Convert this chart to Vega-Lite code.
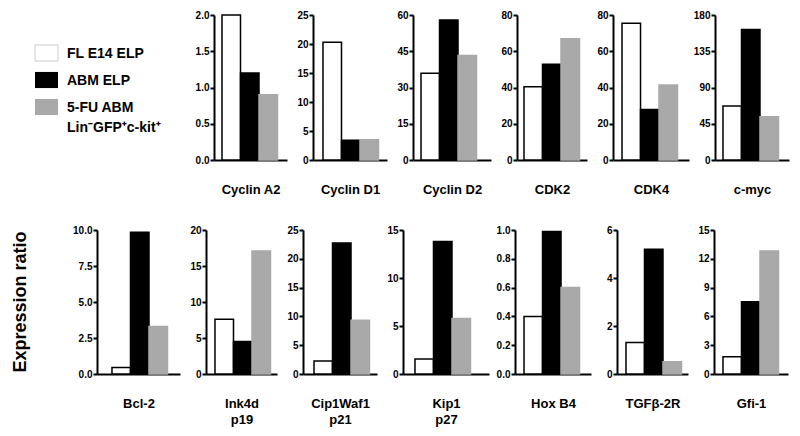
{
  "$schema": "https://vega.github.io/schema/vega-lite/v6.json",
  "background": "white",
  "padding": {"left": 0, "top": 10, "right": 5, "bottom": 5},
  "bounds": "flush",
  "spacing": 215,
  "datasets": {
    "expr": [
      {"gene": "Cyclin A2", "group": "FL E14 ELP", "value": 2.0},
      {"gene": "Cyclin A2", "group": "ABM ELP", "value": 1.2},
      {"gene": "Cyclin A2", "group": "5-FU ABM Lin⁻GFP⁺c-kit⁺", "value": 0.9},
      {"gene": "Cyclin D1", "group": "FL E14 ELP", "value": 20.3},
      {"gene": "Cyclin D1", "group": "ABM ELP", "value": 3.4},
      {"gene": "Cyclin D1", "group": "5-FU ABM Lin⁻GFP⁺c-kit⁺", "value": 3.5},
      {"gene": "Cyclin D2", "group": "FL E14 ELP", "value": 35.9},
      {"gene": "Cyclin D2", "group": "ABM ELP", "value": 57.9},
      {"gene": "Cyclin D2", "group": "5-FU ABM Lin⁻GFP⁺c-kit⁺", "value": 43.2},
      {"gene": "CDK2", "group": "FL E14 ELP", "value": 40.4},
      {"gene": "CDK2", "group": "ABM ELP", "value": 52.8},
      {"gene": "CDK2", "group": "5-FU ABM Lin⁻GFP⁺c-kit⁺", "value": 66.9},
      {"gene": "CDK4", "group": "FL E14 ELP", "value": 75.4},
      {"gene": "CDK4", "group": "ABM ELP", "value": 27.9},
      {"gene": "CDK4", "group": "5-FU ABM Lin⁻GFP⁺c-kit⁺", "value": 41.4},
      {"gene": "c-myc", "group": "FL E14 ELP", "value": 67},
      {"gene": "c-myc", "group": "ABM ELP", "value": 162},
      {"gene": "c-myc", "group": "5-FU ABM Lin⁻GFP⁺c-kit⁺", "value": 53.8},
      {"gene": "Bcl-2", "group": "FL E14 ELP", "value": 0.46},
      {"gene": "Bcl-2", "group": "ABM ELP", "value": 9.84},
      {"gene": "Bcl-2", "group": "5-FU ABM Lin⁻GFP⁺c-kit⁺", "value": 3.29},
      {"gene": "Ink4d p19", "group": "FL E14 ELP", "value": 7.6},
      {"gene": "Ink4d p19", "group": "ABM ELP", "value": 4.5},
      {"gene": "Ink4d p19", "group": "5-FU ABM Lin⁻GFP⁺c-kit⁺", "value": 17.1},
      {"gene": "Cip1Waf1 p21", "group": "FL E14 ELP", "value": 2.25},
      {"gene": "Cip1Waf1 p21", "group": "ABM ELP", "value": 22.75},
      {"gene": "Cip1Waf1 p21", "group": "5-FU ABM Lin⁻GFP⁺c-kit⁺", "value": 9.33},
      {"gene": "Kip1 p27", "group": "FL E14 ELP", "value": 1.56},
      {"gene": "Kip1 p27", "group": "ABM ELP", "value": 13.8},
      {"gene": "Kip1 p27", "group": "5-FU ABM Lin⁻GFP⁺c-kit⁺", "value": 5.78},
      {"gene": "Hox B4", "group": "FL E14 ELP", "value": 0.40},
      {"gene": "Hox B4", "group": "ABM ELP", "value": 0.99},
      {"gene": "Hox B4", "group": "5-FU ABM Lin⁻GFP⁺c-kit⁺", "value": 0.60},
      {"gene": "TGFβ-2R", "group": "FL E14 ELP", "value": 1.31},
      {"gene": "TGFβ-2R", "group": "ABM ELP", "value": 5.2},
      {"gene": "TGFβ-2R", "group": "5-FU ABM Lin⁻GFP⁺c-kit⁺", "value": 0.51},
      {"gene": "Gfi-1", "group": "FL E14 ELP", "value": 1.8},
      {"gene": "Gfi-1", "group": "ABM ELP", "value": 7.53},
      {"gene": "Gfi-1", "group": "5-FU ABM Lin⁻GFP⁺c-kit⁺", "value": 12.8}
    ],
    "legend": [
      {"group": "FL E14 ELP", "label": "FL E14 ELP"},
      {"group": "ABM ELP", "label": "ABM ELP"},
      {"group": "5-FU ABM Lin⁻GFP⁺c-kit⁺", "label": "5-FU ABM\nLin⁻GFP⁺c-kit⁺"}
    ],
    "ytitle": [{"label": "Expression ratio"}]
  },
  "vconcat": [
    {
      "bounds": "flush",
      "spacing": 121,
      "hconcat": [
        {
          "width": 93, "height": 130,
          "data": {"name": "legend"},
          "layer": [
            {
              "mark": {"type": "point", "filled": true, "shape": "M-1,-0.7H1V0.7H-1Z", "size": 529, "strokeWidth": 1, "opacity": 1},
              "encoding": {
                "y": {"field": "group", "type": "nominal", "sort": ["FL E14 ELP", "ABM ELP", "5-FU ABM Lin⁻GFP⁺c-kit⁺"], "scale": {"type": "band", "paddingInner": 0, "paddingOuter": 0.907}, "axis": null},
                "fill": {"field": "group", "type": "nominal", "scale": {"domain": ["FL E14 ELP", "ABM ELP", "5-FU ABM Lin⁻GFP⁺c-kit⁺"], "range": ["white", "black", "#a9a9a9"]}, "legend": null},
                "stroke": {"condition": {"test": "datum.group == 'FL E14 ELP'", "value": "#cccccc"}, "value": "transparent"}
              }
            },
            {
              "mark": {"type": "text", "align": "left", "baseline": "top", "dx": 20.5, "dy": -6, "fontSize": 14, "fontWeight": "bold", "font": "Liberation Sans", "lineBreak": "\n", "lineHeight": 20, "color": "black"},
              "encoding": {
                "y": {"field": "group", "type": "nominal", "sort": ["FL E14 ELP", "ABM ELP", "5-FU ABM Lin⁻GFP⁺c-kit⁺"], "scale": {"type": "band", "paddingInner": 0, "paddingOuter": 0.907}, "axis": null},
                "text": {"field": "label"}
              }
            }
          ]
        },
        {
          "bounds": "flush",
          "spacing": 26,
          "hconcat": [
            {"width": 73, "height": 145, "data": {"name": "expr"}, "transform": [{"filter": "datum.gene == 'Cyclin A2'"}], "mark": {"type": "bar", "strokeWidth": 1.5},
             "encoding": {"x": {"field": "group", "type": "nominal", "sort": ["FL E14 ELP", "ABM ELP", "5-FU ABM Lin⁻GFP⁺c-kit⁺"], "scale": {"paddingInner": 0, "paddingOuter": 0.473, "align": 0.457}, "axis": {"title": "Cyclin A2"}},
              "y": {"field": "value", "type": "quantitative", "scale": {"domain": [0, 2], "nice": false}, "axis": {"values": [0, 0.5, 1, 1.5, 2], "format": ".1f", "title": null}},
              "fill": {"field": "group", "type": "nominal", "scale": {"domain": ["FL E14 ELP", "ABM ELP", "5-FU ABM Lin⁻GFP⁺c-kit⁺"], "range": ["white", "black", "#a9a9a9"]}, "legend": null},
              "stroke": {"field": "group", "type": "nominal", "scale": {"domain": ["FL E14 ELP", "ABM ELP", "5-FU ABM Lin⁻GFP⁺c-kit⁺"], "range": ["black", "black", "#a9a9a9"]}, "legend": null}}},
            {"width": 74, "height": 145, "data": {"name": "expr"}, "transform": [{"filter": "datum.gene == 'Cyclin D1'"}], "mark": {"type": "bar", "strokeWidth": 1.5},
             "encoding": {"x": {"field": "group", "type": "nominal", "sort": ["FL E14 ELP", "ABM ELP", "5-FU ABM Lin⁻GFP⁺c-kit⁺"], "scale": {"paddingInner": 0, "paddingOuter": 0.5, "align": 0.54}, "axis": {"title": "Cyclin D1"}},
              "y": {"field": "value", "type": "quantitative", "scale": {"domain": [0, 25], "nice": false}, "axis": {"values": [0, 5, 10, 15, 20, 25], "title": null}},
              "fill": {"field": "group", "type": "nominal", "scale": {"domain": ["FL E14 ELP", "ABM ELP", "5-FU ABM Lin⁻GFP⁺c-kit⁺"], "range": ["white", "black", "#a9a9a9"]}, "legend": null},
              "stroke": {"field": "group", "type": "nominal", "scale": {"domain": ["FL E14 ELP", "ABM ELP", "5-FU ABM Lin⁻GFP⁺c-kit⁺"], "range": ["black", "black", "#a9a9a9"]}, "legend": null}}},
            {"width": 78, "height": 145, "data": {"name": "expr"}, "transform": [{"filter": "datum.gene == 'Cyclin D2'"}], "mark": {"type": "bar", "strokeWidth": 1.5},
             "encoding": {"x": {"field": "group", "type": "nominal", "sort": ["FL E14 ELP", "ABM ELP", "5-FU ABM Lin⁻GFP⁺c-kit⁺"], "scale": {"paddingInner": 0, "paddingOuter": 0.608, "align": 0.356}, "axis": {"title": "Cyclin D2"}},
              "y": {"field": "value", "type": "quantitative", "scale": {"domain": [0, 60], "nice": false}, "axis": {"values": [0, 15, 30, 45, 60], "title": null}},
              "fill": {"field": "group", "type": "nominal", "scale": {"domain": ["FL E14 ELP", "ABM ELP", "5-FU ABM Lin⁻GFP⁺c-kit⁺"], "range": ["white", "black", "#a9a9a9"]}, "legend": null},
              "stroke": {"field": "group", "type": "nominal", "scale": {"domain": ["FL E14 ELP", "ABM ELP", "5-FU ABM Lin⁻GFP⁺c-kit⁺"], "range": ["black", "black", "#a9a9a9"]}, "legend": null}}},
            {"width": 70, "height": 145, "data": {"name": "expr"}, "transform": [{"filter": "datum.gene == 'CDK2'"}], "mark": {"type": "bar", "strokeWidth": 1.5},
             "encoding": {"x": {"field": "group", "type": "nominal", "sort": ["FL E14 ELP", "ABM ELP", "5-FU ABM Lin⁻GFP⁺c-kit⁺"], "scale": {"paddingInner": 0, "paddingOuter": 0.392, "align": 0.483}, "axis": {"title": "CDK2"}},
              "y": {"field": "value", "type": "quantitative", "scale": {"domain": [0, 80], "nice": false}, "axis": {"values": [0, 20, 40, 60, 80], "title": null}},
              "fill": {"field": "group", "type": "nominal", "scale": {"domain": ["FL E14 ELP", "ABM ELP", "5-FU ABM Lin⁻GFP⁺c-kit⁺"], "range": ["white", "black", "#a9a9a9"]}, "legend": null},
              "stroke": {"field": "group", "type": "nominal", "scale": {"domain": ["FL E14 ELP", "ABM ELP", "5-FU ABM Lin⁻GFP⁺c-kit⁺"], "range": ["black", "black", "#a9a9a9"]}, "legend": null}}},
            {"width": 76, "height": 145, "data": {"name": "expr"}, "transform": [{"filter": "datum.gene == 'CDK4'"}], "mark": {"type": "bar", "strokeWidth": 1.5},
             "encoding": {"x": {"field": "group", "type": "nominal", "sort": ["FL E14 ELP", "ABM ELP", "5-FU ABM Lin⁻GFP⁺c-kit⁺"], "scale": {"paddingInner": 0, "paddingOuter": 0.554, "align": 0.44}, "axis": {"title": "CDK4"}},
              "y": {"field": "value", "type": "quantitative", "scale": {"domain": [0, 80], "nice": false}, "axis": {"values": [0, 20, 40, 60, 80], "title": null}},
              "fill": {"field": "group", "type": "nominal", "scale": {"domain": ["FL E14 ELP", "ABM ELP", "5-FU ABM Lin⁻GFP⁺c-kit⁺"], "range": ["white", "black", "#a9a9a9"]}, "legend": null},
              "stroke": {"field": "group", "type": "nominal", "scale": {"domain": ["FL E14 ELP", "ABM ELP", "5-FU ABM Lin⁻GFP⁺c-kit⁺"], "range": ["black", "black", "#a9a9a9"]}, "legend": null}}},
            {"width": 74, "height": 145, "data": {"name": "expr"}, "transform": [{"filter": "datum.gene == 'c-myc'"}], "mark": {"type": "bar", "strokeWidth": 1.5},
             "encoding": {"x": {"field": "group", "type": "nominal", "sort": ["FL E14 ELP", "ABM ELP", "5-FU ABM Lin⁻GFP⁺c-kit⁺"], "scale": {"paddingInner": 0, "paddingOuter": 0.5, "align": 0.432}, "axis": {"title": "c-myc"}},
              "y": {"field": "value", "type": "quantitative", "scale": {"domain": [0, 180], "nice": false}, "axis": {"values": [0, 45, 90, 135, 180], "title": null}},
              "fill": {"field": "group", "type": "nominal", "scale": {"domain": ["FL E14 ELP", "ABM ELP", "5-FU ABM Lin⁻GFP⁺c-kit⁺"], "range": ["white", "black", "#a9a9a9"]}, "legend": null},
              "stroke": {"field": "group", "type": "nominal", "scale": {"domain": ["FL E14 ELP", "ABM ELP", "5-FU ABM Lin⁻GFP⁺c-kit⁺"], "range": ["black", "black", "#a9a9a9"]}, "legend": null}}}
          ]
        }
      ]
    },
    {
      "bounds": "flush",
      "spacing": 55,
      "hconcat": [
        {
          "width": 42, "height": 144,
          "data": {"name": "ytitle"},
          "mark": {"type": "text", "angle": 270, "fontSize": 18, "fontWeight": "bold", "font": "Liberation Sans", "align": "center", "baseline": "middle", "color": "black"},
          "encoding": {"text": {"field": "label"}}
        },
        {
          "bounds": "flush",
          "spacing": 26,
          "hconcat": [
            {"width": 83, "height": 144, "data": {"name": "expr"}, "transform": [{"filter": "datum.gene == 'Bcl-2'"}], "mark": {"type": "bar", "strokeWidth": 1.5},
             "encoding": {"x": {"field": "group", "type": "nominal", "sort": ["FL E14 ELP", "ABM ELP", "5-FU ABM Lin⁻GFP⁺c-kit⁺"], "scale": {"paddingInner": 0, "paddingOuter": 0.743, "align": 0.545}, "axis": {"title": "Bcl-2"}},
              "y": {"field": "value", "type": "quantitative", "scale": {"domain": [0, 10], "nice": false}, "axis": {"values": [0, 2.5, 5, 7.5, 10], "format": ".1f", "title": null}},
              "fill": {"field": "group", "type": "nominal", "scale": {"domain": ["FL E14 ELP", "ABM ELP", "5-FU ABM Lin⁻GFP⁺c-kit⁺"], "range": ["white", "black", "#a9a9a9"]}, "legend": null},
              "stroke": {"field": "group", "type": "nominal", "scale": {"domain": ["FL E14 ELP", "ABM ELP", "5-FU ABM Lin⁻GFP⁺c-kit⁺"], "range": ["black", "black", "#a9a9a9"]}, "legend": null}}},
            {"width": 71, "height": 144, "data": {"name": "expr"}, "transform": [{"filter": "datum.gene == 'Ink4d p19'"}], "mark": {"type": "bar", "strokeWidth": 1.5},
             "encoding": {"x": {"field": "group", "type": "nominal", "sort": ["FL E14 ELP", "ABM ELP", "5-FU ABM Lin⁻GFP⁺c-kit⁺"], "scale": {"paddingInner": 0, "paddingOuter": 0.419, "align": 0.58}, "axis": {"title": ["Ink4d", "p19"]}},
              "y": {"field": "value", "type": "quantitative", "scale": {"domain": [0, 20], "nice": false}, "axis": {"values": [0, 5, 10, 15, 20], "title": null}},
              "fill": {"field": "group", "type": "nominal", "scale": {"domain": ["FL E14 ELP", "ABM ELP", "5-FU ABM Lin⁻GFP⁺c-kit⁺"], "range": ["white", "black", "#a9a9a9"]}, "legend": null},
              "stroke": {"field": "group", "type": "nominal", "scale": {"domain": ["FL E14 ELP", "ABM ELP", "5-FU ABM Lin⁻GFP⁺c-kit⁺"], "range": ["black", "black", "#a9a9a9"]}, "legend": null}}},
            {"width": 74, "height": 144, "data": {"name": "expr"}, "transform": [{"filter": "datum.gene == 'Cip1Waf1 p21'"}], "mark": {"type": "bar", "strokeWidth": 1.5},
             "encoding": {"x": {"field": "group", "type": "nominal", "sort": ["FL E14 ELP", "ABM ELP", "5-FU ABM Lin⁻GFP⁺c-kit⁺"], "scale": {"paddingInner": 0, "paddingOuter": 0.5, "align": 0.595}, "axis": {"title": ["Cip1Waf1", "p21"]}},
              "y": {"field": "value", "type": "quantitative", "scale": {"domain": [0, 25], "nice": false}, "axis": {"values": [0, 5, 10, 15, 20, 25], "title": null}},
              "fill": {"field": "group", "type": "nominal", "scale": {"domain": ["FL E14 ELP", "ABM ELP", "5-FU ABM Lin⁻GFP⁺c-kit⁺"], "range": ["white", "black", "#a9a9a9"]}, "legend": null},
              "stroke": {"field": "group", "type": "nominal", "scale": {"domain": ["FL E14 ELP", "ABM ELP", "5-FU ABM Lin⁻GFP⁺c-kit⁺"], "range": ["black", "black", "#a9a9a9"]}, "legend": null}}},
            {"width": 86, "height": 144, "data": {"name": "expr"}, "transform": [{"filter": "datum.gene == 'Kip1 p27'"}], "mark": {"type": "bar", "strokeWidth": 1.5},
             "encoding": {"x": {"field": "group", "type": "nominal", "sort": ["FL E14 ELP", "ABM ELP", "5-FU ABM Lin⁻GFP⁺c-kit⁺"], "scale": {"paddingInner": 0, "paddingOuter": 0.824, "align": 0.393}, "axis": {"title": ["Kip1", "p27"]}},
              "y": {"field": "value", "type": "quantitative", "scale": {"domain": [0, 15], "nice": false}, "axis": {"values": [0, 5, 10, 15], "title": null}},
              "fill": {"field": "group", "type": "nominal", "scale": {"domain": ["FL E14 ELP", "ABM ELP", "5-FU ABM Lin⁻GFP⁺c-kit⁺"], "range": ["white", "black", "#a9a9a9"]}, "legend": null},
              "stroke": {"field": "group", "type": "nominal", "scale": {"domain": ["FL E14 ELP", "ABM ELP", "5-FU ABM Lin⁻GFP⁺c-kit⁺"], "range": ["black", "black", "#a9a9a9"]}, "legend": null}}},
            {"width": 76, "height": 144, "data": {"name": "expr"}, "transform": [{"filter": "datum.gene == 'Hox B4'"}], "mark": {"type": "bar", "strokeWidth": 1.5},
             "encoding": {"x": {"field": "group", "type": "nominal", "sort": ["FL E14 ELP", "ABM ELP", "5-FU ABM Lin⁻GFP⁺c-kit⁺"], "scale": {"paddingInner": 0, "paddingOuter": 0.554, "align": 0.44}, "axis": {"title": "Hox B4"}},
              "y": {"field": "value", "type": "quantitative", "scale": {"domain": [0, 1], "nice": false}, "axis": {"values": [0, 0.2, 0.4, 0.6, 0.8, 1], "format": ".1f", "title": null}},
              "fill": {"field": "group", "type": "nominal", "scale": {"domain": ["FL E14 ELP", "ABM ELP", "5-FU ABM Lin⁻GFP⁺c-kit⁺"], "range": ["white", "black", "#a9a9a9"]}, "legend": null},
              "stroke": {"field": "group", "type": "nominal", "scale": {"domain": ["FL E14 ELP", "ABM ELP", "5-FU ABM Lin⁻GFP⁺c-kit⁺"], "range": ["black", "black", "#a9a9a9"]}, "legend": null}}},
            {"width": 71, "height": 144, "data": {"name": "expr"}, "transform": [{"filter": "datum.gene == 'TGFβ-2R'"}], "mark": {"type": "bar", "strokeWidth": 1.5},
             "encoding": {"x": {"field": "group", "type": "nominal", "sort": ["FL E14 ELP", "ABM ELP", "5-FU ABM Lin⁻GFP⁺c-kit⁺"], "scale": {"paddingInner": 0, "paddingOuter": 0.419, "align": 0.58}, "axis": {"title": "TGFβ-2R"}},
              "y": {"field": "value", "type": "quantitative", "scale": {"domain": [0, 6], "nice": false}, "axis": {"values": [0, 2, 4, 6], "title": null}},
              "fill": {"field": "group", "type": "nominal", "scale": {"domain": ["FL E14 ELP", "ABM ELP", "5-FU ABM Lin⁻GFP⁺c-kit⁺"], "range": ["white", "black", "#a9a9a9"]}, "legend": null},
              "stroke": {"field": "group", "type": "nominal", "scale": {"domain": ["FL E14 ELP", "ABM ELP", "5-FU ABM Lin⁻GFP⁺c-kit⁺"], "range": ["black", "black", "#a9a9a9"]}, "legend": null}}},
            {"width": 74, "height": 144, "data": {"name": "expr"}, "transform": [{"filter": "datum.gene == 'Gfi-1'"}], "mark": {"type": "bar", "strokeWidth": 1.5},
             "encoding": {"x": {"field": "group", "type": "nominal", "sort": ["FL E14 ELP", "ABM ELP", "5-FU ABM Lin⁻GFP⁺c-kit⁺"], "scale": {"paddingInner": 0, "paddingOuter": 0.5, "align": 0.486}, "axis": {"title": "Gfi-1"}},
              "y": {"field": "value", "type": "quantitative", "scale": {"domain": [0, 15], "nice": false}, "axis": {"values": [0, 3, 6, 9, 12, 15], "title": null}},
              "fill": {"field": "group", "type": "nominal", "scale": {"domain": ["FL E14 ELP", "ABM ELP", "5-FU ABM Lin⁻GFP⁺c-kit⁺"], "range": ["white", "black", "#a9a9a9"]}, "legend": null},
              "stroke": {"field": "group", "type": "nominal", "scale": {"domain": ["FL E14 ELP", "ABM ELP", "5-FU ABM Lin⁻GFP⁺c-kit⁺"], "range": ["black", "black", "#a9a9a9"]}, "legend": null}}}
          ]
        }
      ]
    }
  ],
  "config": {
    "view": {"stroke": null},
    "font": "Liberation Sans",
    "axis": {
      "domainColor": "black", "domainWidth": 2,
      "tickColor": "black", "tickWidth": 2, "tickSize": 4,
      "labelFont": "Liberation Sans", "labelFontWeight": "bold", "labelFontSize": 10, "labelColor": "black", "labelPadding": 1,
      "grid": false,
      "titleFont": "Liberation Sans", "titleFontWeight": "bold", "titleFontSize": 13, "titleColor": "black"
    },
    "axisX": {"labels": false, "ticks": false, "titlePadding": 29, "titleBaseline": "middle", "titleLineHeight": 16, "minExtent": 0}
  }
}
